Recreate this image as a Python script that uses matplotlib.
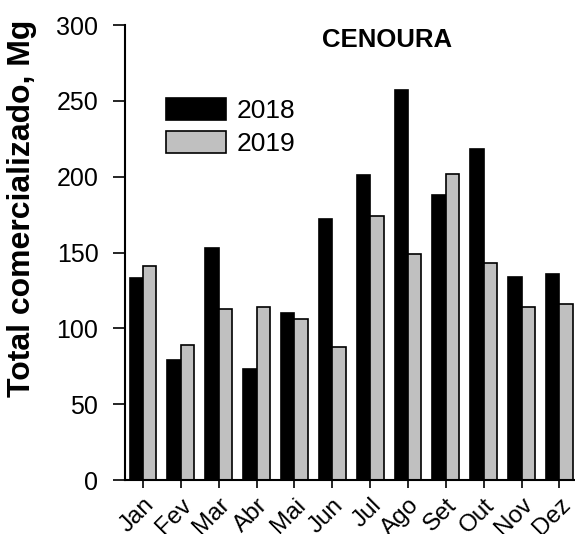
import numpy as np
import matplotlib.pyplot as plt

plt.rcParams['font.family'] = ['Liberation Sans', 'DejaVu Sans']

# Data
months = ["Jan", "Fev", "Mar", "Abr", "Mai", "Jun", "Jul", "Ago", "Set", "Out", "Nov", "Dez"]
v2018 = [133, 79, 153, 73, 110, 172, 201, 257, 188, 218, 134, 136]
v2019 = [141, 89, 113, 114, 106, 88, 174, 149, 202, 143, 114, 116]

x = np.arange(len(months))
w = 0.355

fig = plt.figure(figsize=(5.75, 5.34), dpi=100)
ax = fig.add_axes([0.217, 0.101, 0.781, 0.852])

ax.bar(x - w / 2, v2018, w, color="black", edgecolor="black", linewidth=1.2, label="2018")
ax.bar(x + w / 2, v2019, w, color="#c0c0c0", edgecolor="black", linewidth=1.2, label="2019")

ax.set_ylim(0, 300)
ax.set_xlim(-0.48, 11.38)
ax.set_yticks(range(0, 301, 50))
ax.set_xticks(x)
ax.set_xticklabels(months, rotation=45, ha="right", rotation_mode="anchor", fontsize=17.5)
ax.tick_params(axis="y", labelsize=18, length=9, width=1.2, direction="out", pad=10)
ax.tick_params(axis="x", length=6, width=1.2, direction="out", pad=4)

for s in ["top", "right"]:
    ax.spines[s].set_visible(False)
for s in ["left", "bottom"]:
    ax.spines[s].set_linewidth(1.5)

ax.set_ylabel("Total comercializado, Mg", fontsize=23, fontweight="bold")
ax.yaxis.set_label_coords(-0.195, 0.598)
ax.text(0.583, 0.993, "CENOURA", transform=ax.transAxes, ha="center", va="top",
        fontsize=18.5, fontweight="bold")

ax.legend(loc="upper left", bbox_to_anchor=(0.091, 0.84), frameon=False, fontsize=19,
          handlelength=2.3, handleheight=0.9, labelspacing=0.3, handletextpad=0.4,
          borderaxespad=0, borderpad=0)

plt.savefig("out.png", dpi=100)
